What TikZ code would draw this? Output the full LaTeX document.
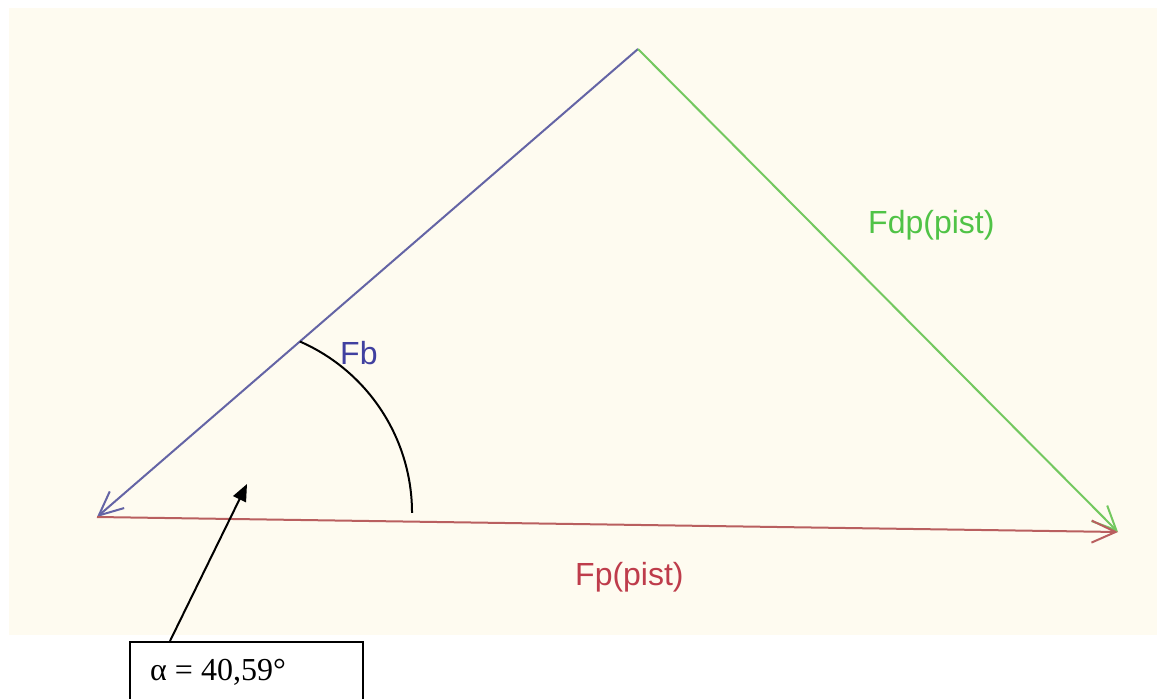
\documentclass[tikz,border=0pt]{standalone}
\usepackage{fontspec}
\setmainfont{Liberation Serif}
\newfontfamily\lblfont{Liberation Sans}
\usetikzlibrary{arrows.meta,calc}
\definecolor{cream}{RGB}{254,251,240}
\definecolor{fbblue}{RGB}{64,64,160}
\definecolor{fbline}{RGB}{100,100,165}
\definecolor{fdgreen}{RGB}{80,195,70}
\definecolor{fdline}{RGB}{115,200,95}
\definecolor{fpred}{RGB}{190,60,75}
\definecolor{fpline}{RGB}{185,95,95}
\tikzset{
  vec/.style={line width=2pt,-{Straight Barb[length=24pt,width=22pt,line width=2pt]}},
  lbl/.style={font=\lblfont\fontsize{32pt}{36pt}\selectfont, inner sep=0pt, anchor=base west},
  blk/.style={line width=2pt, black}
}
\begin{document}
\begin{tikzpicture}[x=1pt,y=1pt]
\useasboundingbox (0,0) rectangle (1157,-699);
\clip (0,0) rectangle (1157,-699);
\fill[white] (0,0) rectangle (1157,-699);
\fill[cream] (9,-8) rectangle (1157,-635);
\coordinate (A) at (97,-517);
\coordinate (T) at (638,-49);
\coordinate (R) at (1118,-532);
\draw[vec, fbline] (T) -- (A);
\draw[vec, fdline] (T) -- (R);
\draw[vec, fpline] (A) -- (R);
\node[lbl, text=fbblue] (fb) at (340,-364) {Fb};
\node[lbl, text=fdgreen] (fdp) at (868,-233) {Fdp(pist)};
\node[lbl, text=fpred] (fp) at (575,-585) {Fp(pist)};
\coordinate (arcstart) at ($(A)!0.375!(T)$);
\draw[blk] (arcstart) arc[start angle=66.4, end angle=0, radius=187pt];
\node[draw, blk, minimum width=233pt, minimum height=120pt, anchor=north west, inner sep=0pt] (box) at (129,-641) {};
\node[font=\fontsize{32pt}{36pt}\selectfont, inner sep=0pt, anchor=base west] (alpha) at (150,-680) {α = 40,59°};
\coordinate (tip) at (247,-484);
\draw[blk, -{Triangle[length=17pt,width=14pt]}] ($(box.north west)+(41,0)$) -- (tip);
\end{tikzpicture}
\end{document}
